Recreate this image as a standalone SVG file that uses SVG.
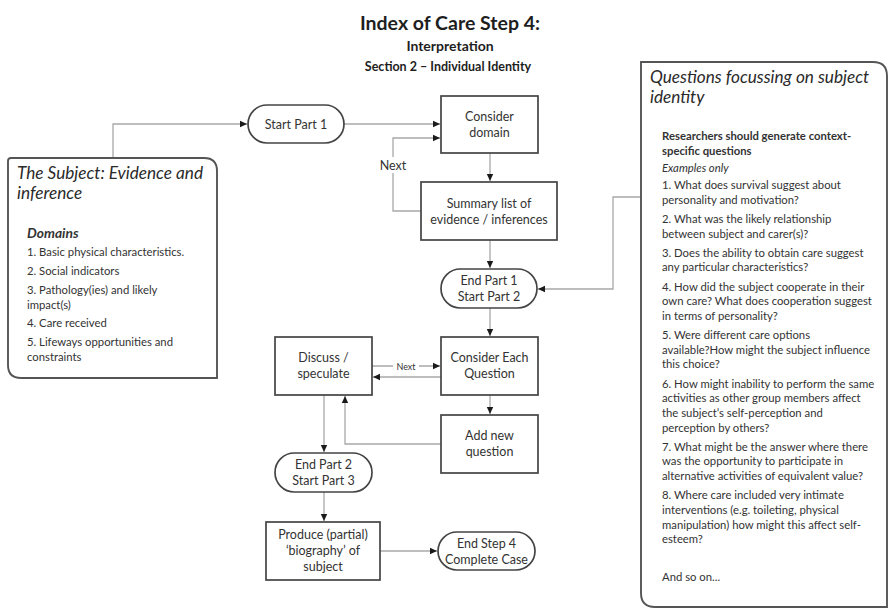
<svg xmlns="http://www.w3.org/2000/svg" width="891" height="608" viewBox="0 0 891 608">
  <defs>
    <marker id="arrow" markerWidth="8" markerHeight="8" refX="7" refY="4" orient="auto" markerUnits="userSpaceOnUse">
      <path d="M0,0.8 L7,4 L0,7.2 Z" fill="#1a1a1a"/>
    </marker>
    <style>
      text { font-family: Lato, "Liberation Sans", sans-serif; fill: #333; }
      .title { font-weight: bold; fill: #1e1e1e; text-anchor: middle; }
      .node { fill: #fff; stroke: #444; stroke-width: 1.7; }
      .panel { fill: #fff; stroke: #555; stroke-width: 1.9; }
      .label { font-size: 12.5px; text-anchor: middle; }
      .conn { fill: none; stroke: #a8a8a8; stroke-width: 1.3; }
      .arr { marker-end: url(#arrow); }
      .ptitle { font-size: 17.2px; font-style: italic; fill: #2a2a2a; }
      .body { font-size: 11.3px; }
      .next { font-size: 12.5px; text-anchor: middle; }
      .nextsm { font-size: 9px; text-anchor: middle; }
    </style>
  </defs>

  <rect width="891" height="608" fill="#fff"/>

  <!-- heading -->
  <g id="heading">
    <text class="title" x="450" y="30" font-size="19.5">Index of Care Step 4:</text>
    <text class="title" x="450" y="51" font-size="14">Interpretation</text>
    <text class="title" x="448" y="71" font-size="12.5">Section 2  – Individual Identity</text>
  </g>

  <!-- connectors -->
  <g id="connectors">
    <path class="conn arr" d="M113,158 V124 H247"/>
    <path class="conn arr" d="M344,124 H440"/>
    <path class="conn arr" d="M421,211 H393 V138 H440"/>
    <rect x="377" y="157" width="32" height="16" fill="#fff"/>
    <text class="next" x="393" y="169.5">Next</text>
    <path class="conn arr" d="M490,153 V181"/>
    <path class="conn arr" d="M490,240 V268"/>
    <path class="conn arr" d="M641,197 H613 V289 H538"/>
    <path class="conn arr" d="M490,308 V336"/>
    <path class="conn arr" d="M372,366 H440"/>
    <rect x="393" y="360" width="26" height="12" fill="#fff"/>
    <text class="nextsm" x="406" y="369.5">Next</text>
    <path class="conn arr" d="M441,377 H373"/>
    <path class="conn arr" d="M490,395 V414"/>
    <path class="conn arr" d="M441,444 H345 V396"/>
    <path class="conn arr" d="M324,395 V452"/>
    <path class="conn arr" d="M324,492 V521"/>
    <path class="conn arr" d="M380,551 H437"/>
  </g>

  <!-- left panel -->
  <g id="subject-panel">
    <path class="panel" d="M11,158 H204 Q217,158 217,171 V378 H21 Q8,378 8,365 V161 Q8,158 11,158 Z"/>
    <text class="ptitle" x="17" y="179">The Subject: Evidence and</text>
    <text class="ptitle" x="17" y="199">inference</text>
    <text x="27" y="238" font-size="13.8" font-weight="bold" font-style="italic" fill="#222">Domains</text>
    <text class="body" x="27" y="256">1. Basic physical characteristics.</text>
    <text class="body" x="27" y="275">2. Social indicators</text>
    <text class="body" x="27" y="294">3. Pathology(ies) and likely</text>
    <text class="body" x="27" y="309">impact(s)</text>
    <text class="body" x="27" y="327">4. Care received</text>
    <text class="body" x="27" y="346">5. Lifeways opportunities and</text>
    <text class="body" x="27" y="361">constraints</text>
  </g>

  <!-- right panel -->
  <g id="questions-panel">
    <path class="panel" d="M641,62 H873 Q887,62 887,76 V607 H655 Q641,607 641,593 Z"/>
    <text class="ptitle" x="650" y="83">Questions focussing on subject</text>
    <text class="ptitle" x="650" y="103">identity</text>
    <text class="body" x="662" y="140" font-weight="bold" fill="#222">Researchers should generate context-</text>
    <text class="body" x="662" y="154.5" font-weight="bold" fill="#222">specific questions</text>
    <text class="body" x="662" y="172" font-style="italic">Examples only</text>
    <text class="body" x="662" y="189">1. What does survival suggest about</text>
    <text class="body" x="662" y="203.6">personality and motivation?</text>
    <text class="body" x="662" y="222.9">2. What was the likely relationship</text>
    <text class="body" x="662" y="237.5">between subject and carer(s)?</text>
    <text class="body" x="662" y="256.8">3. Does the ability to obtain care suggest</text>
    <text class="body" x="662" y="271.4">any particular characteristics?</text>
    <text class="body" x="662" y="290.7">4. How did the subject cooperate in their</text>
    <text class="body" x="662" y="305.3">own care? What does cooperation suggest</text>
    <text class="body" x="662" y="319.9">in terms of personality?</text>
    <text class="body" x="662" y="339.2">5. Were different care options</text>
    <text class="body" x="662" y="353.8">available?How might the subject influence</text>
    <text class="body" x="662" y="368.4">this choice?</text>
    <text class="body" x="662" y="387.7">6. How might inability to perform the same</text>
    <text class="body" x="662" y="402.3">activities as other group members affect</text>
    <text class="body" x="662" y="416.9">the subject’s self-perception and</text>
    <text class="body" x="662" y="431.5">perception by others?</text>
    <text class="body" x="662" y="450.8">7. What might be the answer where there</text>
    <text class="body" x="662" y="465.4">was the opportunity to participate in</text>
    <text class="body" x="662" y="480">alternative activities of equivalent value?</text>
    <text class="body" x="662" y="499.3">8. Where care included very intimate</text>
    <text class="body" x="662" y="513.9">interventions (e.g. toileting, physical</text>
    <text class="body" x="662" y="528.5">manipulation) how might this affect self-</text>
    <text class="body" x="662" y="543.1">esteem?</text>
    <text class="body" x="662" y="581">And so on...</text>
  </g>

  <!-- flow nodes -->
  <g id="start-part-1">
    <rect class="node" x="248" y="105" width="96" height="38" rx="19"/>
    <text class="label" x="296" y="128.5">Start Part 1</text>
  </g>
  <g id="consider-domain">
    <rect class="node" x="441" y="96" width="97" height="57"/>
    <text class="label" x="489.5" y="121">Consider</text>
    <text class="label" x="489.5" y="137">domain</text>
  </g>
  <g id="summary-list">
    <rect class="node" x="421" y="182" width="136" height="58"/>
    <text class="label" x="489" y="207.5">Summary list of</text>
    <text class="label" x="489" y="223.5">evidence / inferences</text>
  </g>
  <g id="end-part-1">
    <rect class="node" x="441" y="269" width="96" height="39" rx="19.5"/>
    <text class="label" x="489" y="285">End Part 1</text>
    <text class="label" x="489" y="301">Start Part 2</text>
  </g>
  <g id="discuss">
    <rect class="node" x="275" y="337" width="97" height="58"/>
    <text class="label" x="323.5" y="362">Discuss /</text>
    <text class="label" x="323.5" y="378">speculate</text>
  </g>
  <g id="consider-question">
    <rect class="node" x="441" y="337" width="97" height="58"/>
    <text class="label" x="489.5" y="362">Consider Each</text>
    <text class="label" x="489.5" y="378">Question</text>
  </g>
  <g id="add-question">
    <rect class="node" x="441" y="415" width="97" height="58"/>
    <text class="label" x="489.5" y="440">Add new</text>
    <text class="label" x="489.5" y="456">question</text>
  </g>
  <g id="end-part-2">
    <rect class="node" x="275" y="453" width="97" height="39" rx="19.5"/>
    <text class="label" x="323.5" y="469">End Part 2</text>
    <text class="label" x="323.5" y="485">Start Part 3</text>
  </g>
  <g id="biography">
    <rect class="node" x="266" y="522" width="114" height="58"/>
    <text class="label" x="323" y="539">Produce (partial)</text>
    <text class="label" x="323" y="555">‘biography’ of</text>
    <text class="label" x="323" y="571">subject</text>
  </g>
  <g id="end-step-4">
    <rect class="node" x="438" y="532" width="97" height="38" rx="19"/>
    <text class="label" x="486.5" y="547.5">End Step 4</text>
    <text class="label" x="486.5" y="563.5">Complete Case</text>
  </g>
</svg>
